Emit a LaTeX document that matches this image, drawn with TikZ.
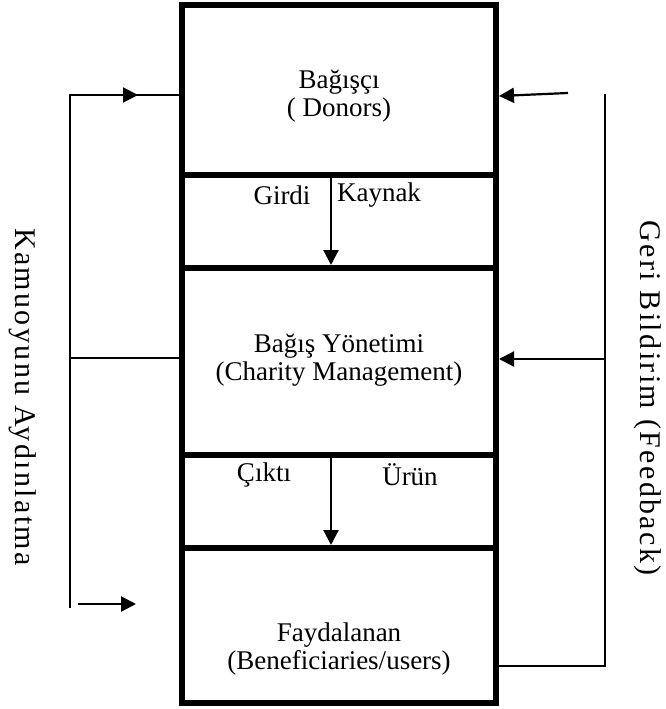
\documentclass[tikz,border=0pt]{standalone}
\usepackage{fontspec}
\setmainfont{Liberation Serif}
\newfontfamily\sideserif[LetterSpace=8]{Liberation Serif}
\usetikzlibrary{arrows.meta}

\begin{document}
\begin{tikzpicture}[x=1pt,y=-1pt,
  section/.style={draw, line width=6pt, minimum width=314pt, inner sep=0pt},
  label/.style={font=\fontsize{27}{28}\selectfont, inner sep=0pt, align=center},
  sidelabel/.style={rotate=-90, inner sep=0pt, font=\sideserif\fontsize{30}{32}\selectfont},
  wire/.style={line width=2.2pt},
  flow/.style={line width=2.2pt, -{Triangle[length=15pt,width=15pt]}}]
\useasboundingbox (0,0) rectangle (666,709);

% the stacked column
\node[section, minimum height=170pt] (donor)  at (339,90) {};
\node[section, minimum height=93pt]  (input)  at (339,221.5) {};
\node[section, minimum height=187pt] (mgmt)   at (339,361.5) {};
\node[section, minimum height=93pt]  (output) at (339,501.5) {};
\node[section, minimum height=155pt] (benef)  at (339,625.5) {};

% captions of the three main blocks
\node[label] (donorText) at (339,96)  {Bağışçı\\( Donors)};
\node[label] (mgmtText)  at (339,360) {Bağış Yönetimi\\(Charity Management)};
\node[label] (benefText) at (339,649) {Faydalanan\\(Beneficiaries/users)};

% labels in the narrow bands
\node[label] (girdi)  at (282,195) {Girdi};
\node[label] (kaynak) at (379,195) {Kaynak};
\node[label] (cikti)  at (264,475) {Çıktı};
\node[label] (urun)   at (410,475) {Ürün};

% flows through the column
\coordinate (inTop) at (331,178);
\draw[flow] (inTop) -- (mgmt.north -| inTop);
\coordinate (outTop) at (331,458);
\draw[flow] (outTop) -- (benef.north -| outTop);

% left bracket: public information
\coordinate (lTop) at (70,95);
\coordinate (lMid) at (70,358);
\coordinate (lBot) at (70,608);
\coordinate (lHead) at (138,95);
\draw[wire] (lBot) -- (lTop) -- (donor.west |- lTop);
\draw[flow] (lTop) -- (lHead);
\draw[wire] (lMid) -- (mgmt.west |- lMid);
\coordinate (lbStart) at (78,604);
\coordinate (lbHead) at (136,604);
\draw[flow] (lbStart) -- (lbHead);

% right bracket: feedback
\coordinate (rTop) at (605,94);
\coordinate (rMid) at (605,359);
\coordinate (rBot) at (605,666);
\coordinate (rStart) at (568,93);
\draw[wire] (rTop) -- (rBot) -- (benef.east |- rBot);
\draw[flow] (rStart) -- (donor.east |- 0,96);
\draw[flow] (rMid) -- (mgmt.east |- rMid);

% side captions
\node[sidelabel] (kamu) at (23,397) {Kamuoyunu Aydınlatma};
\node[sidelabel] (geri) at (648,398) {Geri Bildirim (Feedback)};
\end{tikzpicture}
\end{document}
